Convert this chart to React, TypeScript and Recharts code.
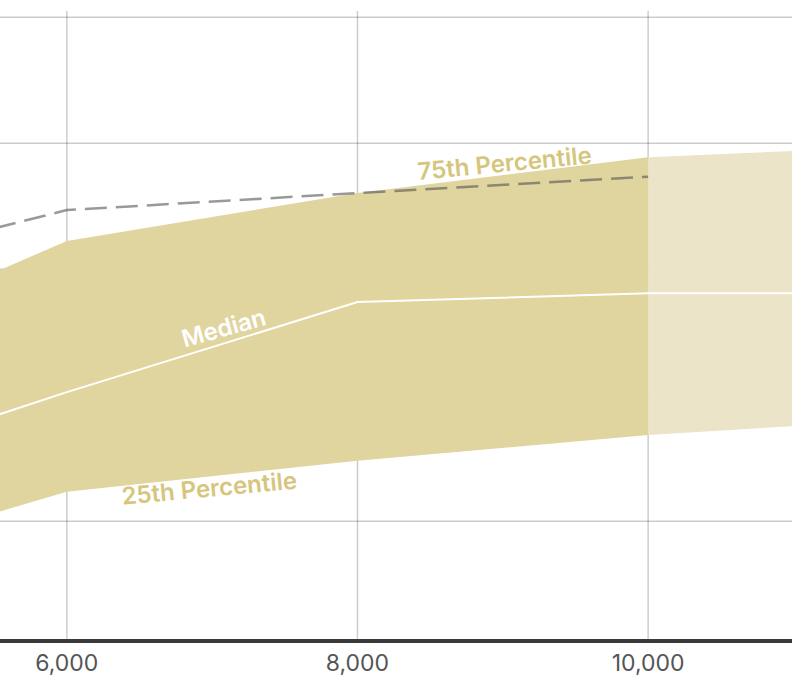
import React from "react";
import {
  Area,
  CartesianGrid,
  ComposedChart,
  Line,
  ReferenceDot,
  XAxis,
  YAxis,
} from "recharts";

// x positions (the view is cropped to the middle of the range)
const XS = [5500, 6000, 8000, 10000, 11000];
const P25 = [21.3, 24.7, 29.6, 33.7, 35.1];
const P75 = [59.5, 64.5, 72.1, 77.8, 78.8];
const MEDIAN = [36.7, 40.5, 54.8, 56.2, 56.2];
const PRIOR_P75 = [66.5, 69.4, 72.1, 74.7, null];
const LAST_ACTUAL = 10000;

const X_TICKS = [6000, 8000, 10000];
const Y_TICKS = [20, 40, 60, 80, 100];

const LABELS = [
  { text: "75th Percentile", x: 9018, y: 75.5, angle: -5.5, color: "#d6c57c" },
  { text: "Median", x: 7095, y: 49.4, angle: -15.5, color: "#ffffff" },
  { text: "25th Percentile", x: 6985, y: 23.9, angle: -5.3, color: "#d6c57c" },
];

const data = XS.map((x, i) => ({
  x,
  actual: x <= LAST_ACTUAL ? [P25[i], P75[i]] : null,
  projected: x >= LAST_ACTUAL ? [P25[i], P75[i]] : null,
  median: MEDIAN[i],
  prior: PRIOR_P75[i],
}));

function makeLabel(text: string, angle: number, color: string) {
  return (props: any) => (
    <text
      x={props.cx}
      y={props.cy}
      transform={`rotate(${angle} ${props.cx} ${props.cy})`}
      textAnchor="middle"
      fill={color}
      fontSize={24}
      fontWeight={600}
      fontFamily="Inter, sans-serif"
    >
      {text}
    </text>
  );
}

export default function App() {
  return (
    <div style={{ position: "absolute", left: 0, top: 0 }}>
      <ComposedChart
        width={792}
        height={681}
        data={data}
        margin={{ top: 11, right: 0, left: 0, bottom: 0 }}
        style={{ fontFamily: "Inter, sans-serif" }}
      >
        <XAxis
          dataKey="x"
          type="number"
          domain={[5540, 10990]}
          allowDataOverflow
          ticks={X_TICKS}
          tickFormatter={(v) => v.toLocaleString("en-US")}
          tickLine={false}
          tickMargin={8}
          axisLine={{ stroke: "#3a3a3a", strokeWidth: 4 }}
          tick={{ fill: "#555", fontSize: 23 }}
          height={40}
        />
        <YAxis hide type="number" domain={[1, 101]} ticks={Y_TICKS} />
        <Area
          dataKey="actual"
          stroke="none"
          fill="#e0d49f"
          fillOpacity={1}
          isAnimationActive={false}
        />
        <Area
          dataKey="projected"
          stroke="none"
          fill="#ece4c8"
          fillOpacity={1}
          isAnimationActive={false}
        />
        <CartesianGrid
          stroke="rgba(0,0,0,0.2)"
          strokeWidth={1.5}
          horizontalValues={Y_TICKS}
          verticalValues={X_TICKS}
        />
        <Line
          dataKey="prior"
          stroke="rgba(80,80,80,0.58)"
          strokeWidth={2.5}
          strokeDasharray="22 9"
          dot={false}
          isAnimationActive={false}
        />
        <Line
          dataKey="median"
          stroke="#ffffff"
          strokeWidth={2}
          dot={false}
          isAnimationActive={false}
        />
        {LABELS.map((l) => (
          <ReferenceDot
            key={l.text}
            x={l.x}
            y={l.y}
            r={1}
            shape={makeLabel(l.text, l.angle, l.color)}
          />
        ))}
      </ComposedChart>
    </div>
  );
}
